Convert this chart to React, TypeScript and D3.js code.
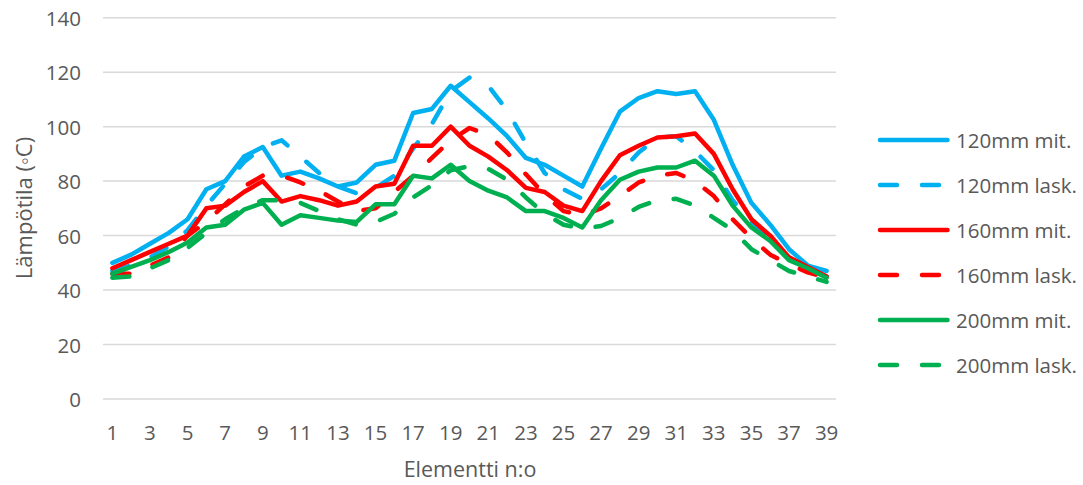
import React from "react";
import * as d3 from "d3";

const elements = d3.range(1, 40);
const yTicks = [0, 20, 40, 60, 80, 100, 120, 140];
const xTickLabels = elements.filter((d) => d % 2 === 1);

const mit120 = [50, 53, 57, 61, 66, 77, 80, 89, 92.5, 82, 83.5, 81, 78, 79.5, 86, 87.5, 105, 106.5, 115, 109, 103, 96.5, 88.5, 86, 82, 78, 92, 105.5, 110.5, 113, 112, 113, 102.5, 86, 72, 64, 55, 49, 47];
const lask120 = [47, 49, 52, 56, 62, 71, 79, 87, 92.5, 95, 89, 83, 78, 75.5, 77.5, 82, 92, 101, 113, 118, 115, 106, 94, 83, 77, 73.5, 77, 83, 90.5, 96, 96.5, 91, 84, 73, 65, 58, 52, 48, 45];
const mit160 = [48, 51, 54, 57, 60, 70, 71, 76, 80, 72.5, 74.5, 73, 71, 72.5, 78, 79, 93, 93, 100, 93, 89, 84, 77.5, 76, 71, 69, 80, 89.5, 93, 96, 96.5, 97.5, 90, 77, 66, 60, 52, 48.5, 45];
const lask160 = [46, 46, 49, 52, 60, 65, 71.5, 78, 82, 82, 79.5, 76.5, 72.5, 69, 70, 76, 82, 88.5, 95, 99.5, 97, 90.5, 82.5, 75, 69, 67.5, 70, 74.5, 79.5, 82, 83, 80, 74.5, 66, 59, 53, 49.5, 46.5, 44.5];
const mit200 = [46, 48.5, 51, 54, 57.5, 63, 64, 69.5, 72, 64, 67.5, 66.5, 65.5, 65, 71.5, 71.5, 82, 81, 86, 80, 76.5, 74, 69, 69, 66.5, 63, 73, 80.5, 83.5, 85, 85, 87.5, 82, 71, 63, 58, 51, 48, 44.5];
const lask200 = [44.5, 45, 48, 51, 55.5, 61, 66, 70, 73, 73, 72, 69, 66, 64, 65, 68, 74, 78.5, 84, 85.5, 84.5, 80.5, 74, 68, 64, 62.5, 63.5, 66.5, 70.5, 73, 73.5, 71, 66.5, 62, 55, 51, 47, 45, 43];

const seriesNames = ["120mm mit.", "120mm lask.", "160mm mit.", "160mm lask.", "200mm mit.", "200mm lask."];
const seriesValues = [mit120, lask120, mit160, lask160, mit200, lask200];
const seriesColors = ["#00B0F0", "#00B0F0", "#FF0000", "#FF0000", "#00B050", "#00B050"];
const seriesDashed = [false, true, false, true, false, true];

const W = 1083;
const H = 485;
const FONT = "'Open Sans', sans-serif";
const TEXT = "#595959";

export default function App() {
  const x = d3.scalePoint<number>().domain(elements).range([103, 836]).padding(0.5);
  const y = d3.scaleLinear().domain([0, 140]).range([399, 17.7]);
  const line = d3
    .line<number>()
    .x((_, i) => x(elements[i]) as number)
    .y((d) => y(d));

  return (
    <svg width={W} height={H} style={{ position: "absolute", left: 0, top: 0, background: "#fff" }}>
      {yTicks.map((t) => (
        <g key={t}>
          <line x1={103} x2={836} y1={y(t)} y2={y(t)} stroke="#D9D9D9" strokeWidth={1.5} />
          <text x={81} y={y(t)} textAnchor="end" dominantBaseline="central" fontFamily={FONT} fontSize={20.5} fill={TEXT}>
            {t}
          </text>
        </g>
      ))}
      {xTickLabels.map((e) => (
        <text key={e} x={x(e)} y={432} textAnchor="middle" dominantBaseline="central" fontFamily={FONT} fontSize={20.5} fill={TEXT}>
          {e}
        </text>
      ))}
      <text x={470} y={468} textAnchor="middle" dominantBaseline="central" fontFamily={FONT} fontSize={21.5} fill={TEXT}>
        Elementti n:o
      </text>
      <text
        transform={`translate(23,208) rotate(-90)`}
        textAnchor="middle"
        dominantBaseline="central"
        fontFamily={FONT}
        fontSize={22}
        fill={TEXT}
      >
        Lämpötila (◦C)
      </text>
      {seriesValues.map((vals, i) => (
        <path
          key={seriesNames[i]}
          d={line(vals) || ""}
          fill="none"
          stroke={seriesColors[i]}
          strokeWidth={4.5}
          strokeLinejoin="round"
          strokeLinecap="round"
          strokeDasharray={seriesDashed[i] ? "17 25" : undefined}
        />
      ))}
      {seriesNames.map((name, i) => {
        const ly = 140 + i * 45;
        return (
          <g key={name}>
            <line
              x1={880}
              x2={947.5}
              y1={ly}
              y2={ly}
              stroke={seriesColors[i]}
              strokeWidth={4.5}
              strokeLinecap="round"
              strokeDasharray={seriesDashed[i] ? "17 25" : undefined}
            />
            <text x={956} y={ly} dominantBaseline="central" fontFamily={FONT} fontSize={20.5} fill={TEXT}>
              {name}
            </text>
          </g>
        );
      })}
    </svg>
  );
}
